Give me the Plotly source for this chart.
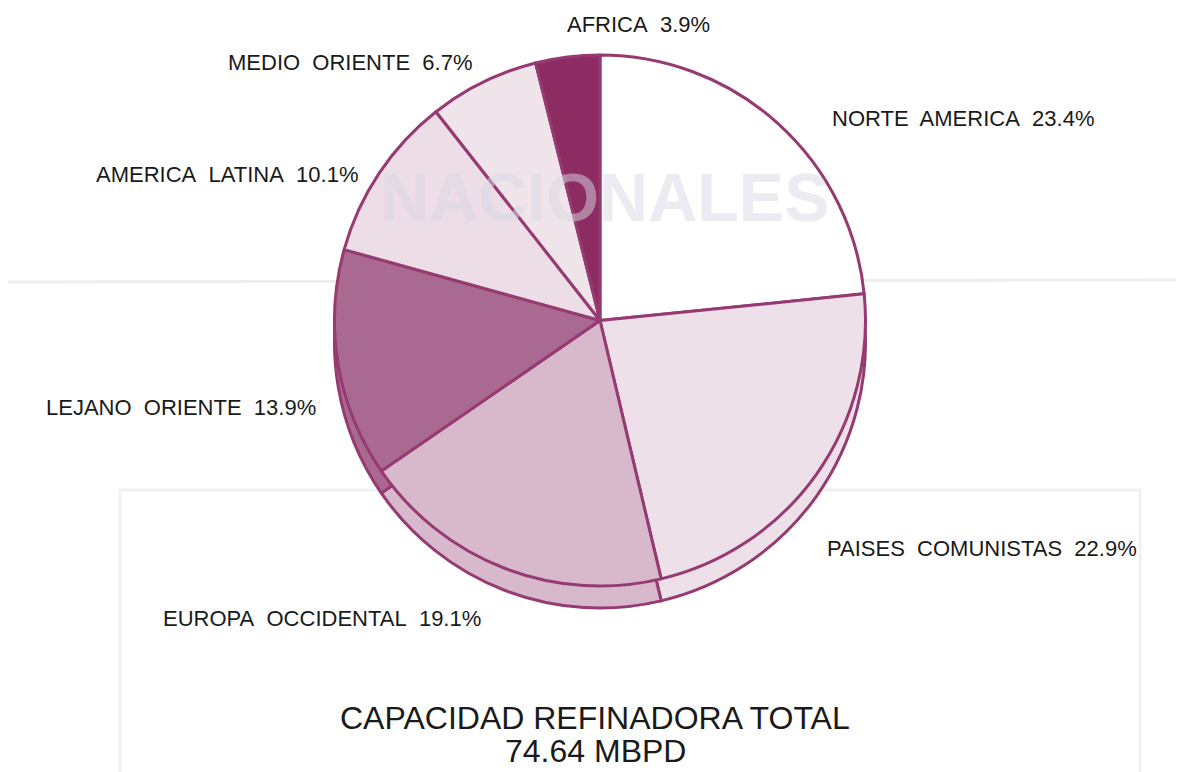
import plotly.graph_objects as go

regions = ["NORTE  AMERICA", "PAISES  COMUNISTAS", "EUROPA  OCCIDENTAL", "LEJANO  ORIENTE",
           "AMERICA  LATINA", "MEDIO  ORIENTE", "AFRICA"]
shares = [23.4, 22.9, 19.1, 13.9, 10.1, 6.7, 3.9]
fills = ["#ffffff", "#ede0e8", "#d8b8cb", "#aa6990", "#ecdde6", "#f0e4eb", "#8c2c63"]
outline = "#963a72"

# label anchor positions in page pixels
label_px = [830, 825, 483, 318, 360, 475, 565]
label_py = [118, 548, 618, 408, 174, 62, 25]
label_anchor = ["left", "left", "right", "right", "right", "right", "left"]

title_lines = ["CAPACIDAD REFINADORA TOTAL", "74.64 MBPD"]

W, H = 1184, 772
OFF = 8  # page body margin


def px(X):
    return (X - OFF) / W


def py(Y):
    return 1 - (Y - OFF) / H


top, bottom = 55, 586
cx = 600
d = bottom - top
shift = 22

fig = go.Figure()


def pie(dy):
    return go.Pie(
        labels=regions, values=shares, sort=False, direction="clockwise", rotation=0,
        marker=dict(colors=fills, line=dict(color=outline, width=3)),
        textinfo="none", hoverinfo="skip", showlegend=False,
        domain=dict(x=[px(cx - d / 2), px(cx + d / 2)],
                    y=[py(bottom + dy), py(top + dy)]),
    )


fig.add_trace(pie(shift))
fig.add_trace(pie(0))

# faint bleed-through from the reverse page
fig.add_shape(type="line", xref="paper", yref="paper", x0=0.0, x1=1.0,
              y0=py(282), y1=py(280), line=dict(color="rgba(200,200,205,0.3)", width=3),
              layer="below")
fig.add_shape(type="rect", xref="paper", yref="paper", x0=px(120), x1=px(1140),
              y0=0, y1=py(490), line=dict(color="rgba(200,200,210,0.25)", width=3),
              layer="below")
fig.add_annotation(x=px(605), y=py(197), xref="paper", yref="paper", text="<b>NACIONALES</b>",
                   xanchor="center", yanchor="middle", showarrow=False,
                   font=dict(family="Liberation Sans", size=68, color="rgba(215,215,228,0.5)"))

for name, v, X, Y, a in zip(regions, shares, label_px, label_py, label_anchor):
    fig.add_annotation(x=px(X), y=py(Y), xref="paper", yref="paper", xanchor=a, yanchor="middle",
                       text=f"{name}  {v}%".replace("  ", "\u00a0 "), showarrow=False,
                       font=dict(family="Liberation Sans", size=22, color="#1a1a1a"))

fig.add_annotation(x=px(595), y=py(718), xref="paper", yref="paper", text=title_lines[0],
                   xanchor="center", yanchor="middle", showarrow=False,
                   font=dict(family="Liberation Sans", size=32, color="#1a1a1a"))
fig.add_annotation(x=px(595), y=py(751), xref="paper", yref="paper", text=title_lines[1],
                   xanchor="center", yanchor="middle", showarrow=False,
                   font=dict(family="Liberation Sans", size=32, color="#1a1a1a"))

fig.update_layout(width=W, height=H, margin=dict(l=0, r=0, t=0, b=0),
                  paper_bgcolor="white", plot_bgcolor="white")
fig.write_html("out.html")
